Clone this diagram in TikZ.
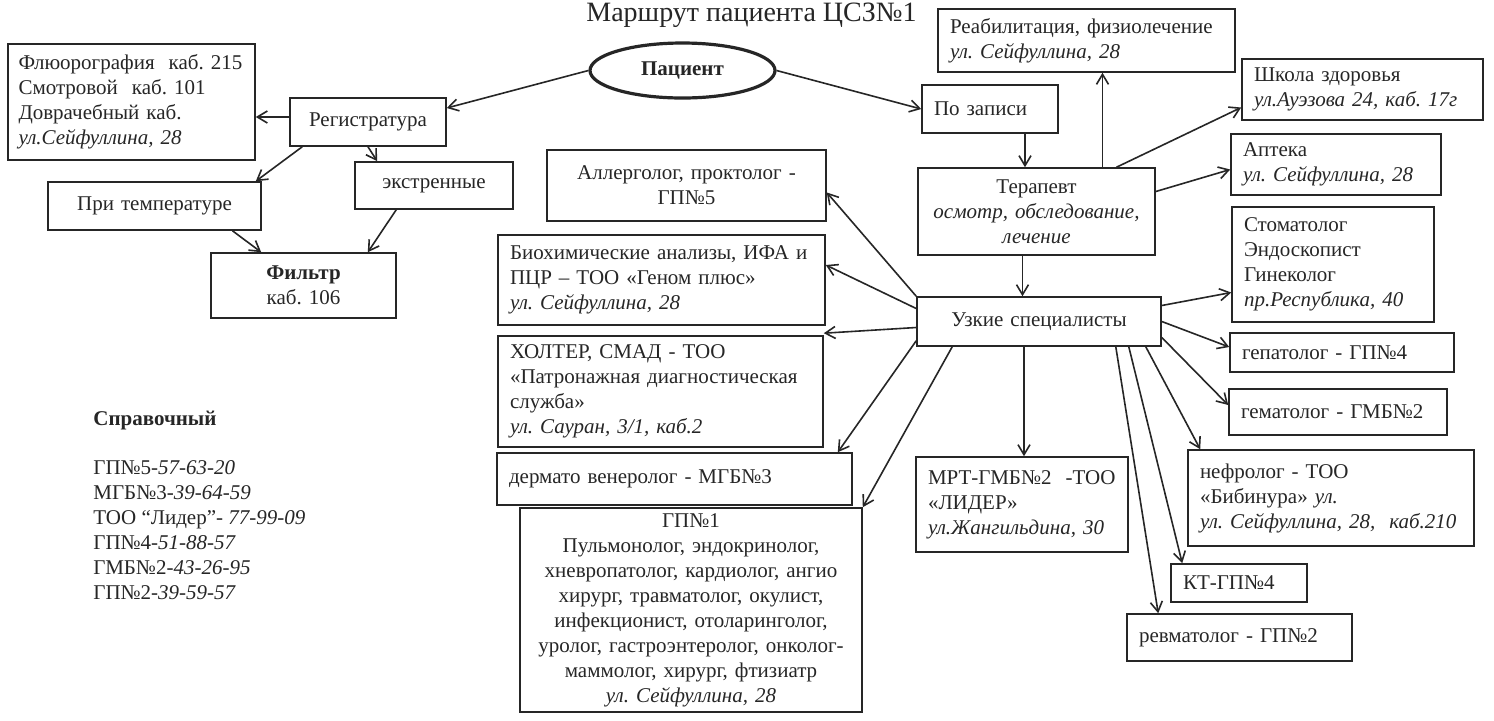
\documentclass[tikz,border=0pt]{standalone}
\usepackage{fontspec}
\setmainfont{Liberation Serif}
\usetikzlibrary{arrows.meta,positioning,shapes.geometric}
\definecolor{ink}{HTML}{262626}
\tikzset{
  card/.style={rectangle,draw=ink,line width=0.8pt,text=ink,inner xsep=6pt,inner ysep=2pt,
    font=\fontsize{10.5}{12.5}\selectfont},
  lcard/.style={card,align=left},
  ccard/.style={card,align=center},
  oval/.style={ellipse,draw=ink,line width=1.6pt,text=ink,inner sep=0pt,
    font=\fontsize{10.5}{12.5}\selectfont\bfseries},
  note/.style={text=ink,inner sep=0pt,align=left,font=\fontsize{10.5}{12.5}\selectfont},
  link/.style={-{Straight Barb[length=5pt,width=6pt]},line width=0.8pt,draw=ink},
}

\begin{document}
\frenchspacing
\begin{tikzpicture}[x=0.5pt,y=-0.5pt]
  \useasboundingbox[fill=white] (0,0) rectangle (1494,720);

  \node[text=ink,font=\fontsize{14}{16}\selectfont,anchor=base] (title) at (751.5,21) {Маршрут пациента ЦСЗ№1};

  % left part
  \node[oval,minimum width=92.5pt,minimum height=27.5pt] (patient) at (682.5,70.5) {Пациент};
  \node[lcard,inner xsep=5.25pt,text width=113pt,minimum height=58pt] (fluoro) at (131.5,102)
    {Флюорография\ \ каб. 215\\Смотровой\ \ каб. 101\\Доврачебный каб.\\\textit{ул.Сейфуллина, 28}};
  \node[ccard,text width=66pt,minimum height=24pt] (reg) at (368,122) {Регистратура};
  \node[ccard,text width=94.5pt,minimum height=24pt] (temp) at (154.5,206) {При температуре};
  \node[ccard,text width=67pt,minimum height=23.5pt] (urgent) at (434,185.5) {экстренные};
  \node[ccard,text width=80.5pt,minimum height=32.5pt] (filter) at (303.5,285.5) {\textbf{Фильтр}\\каб. 106};

  \node[note,font=\fontsize{10.5}{12.5}\selectfont\bfseries,anchor=west] (ref) at (93,420) {Справочный};
  \node[note,anchor=west] (phones) at (93,530.5)
    {ГП№5\textit{-57-63-20}\\МГБ№3\textit{-39-64-59}\\ТОО “Лидер”- \textit{77-99-09}\\
     ГП№4\textit{-51-88-57}\\ГМБ№2\textit{-43-26-95}\\ГП№2\textit{-39-59-57}};

  % therapist branch
  \node[lcard,text width=56pt,minimum height=24pt] (byappt) at (990,109) {По записи};
  \node[lcard,text width=136.5pt,minimum height=31.5pt] (rehab) at (1086.5,40.5)
    {Реабилитация, физиолечение\\\textit{ул. Сейфуллина, 28}};
  \node[ccard,text width=106.5pt,minimum height=43.5pt] (therapist) at (1036.5,211.5)
    {Терапевт\\\textit{осмотр, обследование,}\\\textit{лечение}};
  \node[lcard,text width=108.5pt,minimum height=30.5pt] (school) at (1362.5,89.5)
    {Школа здоровья\\\textit{ул.Ауэзова 24, каб. 17г}};
  \node[lcard,text width=93pt,minimum height=30.5pt] (pharm) at (1336,164.5)
    {Аптека\\\textit{ул. Сейфуллина, 28}};

  % specialists
  \node[ccard,text width=110pt,minimum height=24.5pt] (uz) at (1039,321.5) {Узкие специалисты};
  \node[lcard,text width=89pt,minimum height=57.5pt] (dent) at (1333,264.5)
    {Стоматолог\\Эндоскопист\\Гинеколог\\\textit{пр.Республика, 40}};
  \node[lcard,text width=100pt,minimum height=19.5pt] (hepat) at (1342,352.5) {гепатолог - ГП№4};
  \node[lcard,text width=97pt,minimum height=23pt] (hemat) at (1338,412) {гематолог - ГМБ№2};
  \node[lcard,text width=131pt,minimum height=48pt] (nephro) at (1331,498)
    {нефролог - ТОО\\«Бибинура» \textit{ул.}\\\textit{ул. Сейфуллина, 28,\ \ каб.210}};
  \node[lcard,text width=56pt,minimum height=19pt] (kt) at (1239,583) {КТ-ГП№4};
  \node[lcard,text width=100.5pt,minimum height=23.5pt] (rheum) at (1239.5,637.5) {ревматолог - ГП№2};
  \node[lcard,text width=94pt,minimum height=47.5pt] (mrt) at (1022,504.5)
    {МРТ-ГМБ№2\ \ -ТОО\\«ЛИДЕР»\\\textit{ул.Жангильдина, 30}};
  \node[ccard,text width=127.5pt,minimum height=35.5pt] (allerg) at (686.5,185.5)
    {Аллерголог, проктолог -\\ГП№5};
  \node[lcard,text width=151.5pt,minimum height=45pt] (bio) at (661.5,280)
    {Биохимические анализы, ИФА и\\ПЦР – ТОО «Геном плюс»\\\textit{ул. Сейфуллина, 28}};
  \node[lcard,text width=150.5pt,minimum height=55.5pt] (holter) at (660.5,391.5)
    {ХОЛТЕР, СМАД - ТОО\\«Патронажная диагностическая\\служба»\\\textit{ул. Сауран, 3/1, каб.2}};
  \node[lcard,text width=165.5pt,minimum height=26pt] (derm) at (674.5,479) {дермато венеролог - МГБ№3};
  \node[ccard,text width=159pt,minimum height=102pt] (gp1) at (691,610)
    {ГП№1\\Пульмонолог, эндокринолог,\\хневропатолог, кардиолог, ангио\\хирург, травматолог, окулист,\\
     инфекционист, отоларинголог,\\уролог, гастроэнтеролог, онколог-\\маммолог, хирург, фтизиатр\\
     \textit{ул. Сейфуллина, 28}};

  % arrows
  \draw[link] (patient.west) -- ([yshift=7pt]reg.east);
  \draw[link] (patient.east) -- (byappt.west);
  \draw[link] ([yshift=2.5pt]reg.west) -- ([yshift=2.5pt]fluoro.east |- reg.west);
  \draw[link] ([xshift=6.5pt]reg.south west) -- ([xshift=-3pt]temp.north east);
  \draw[link] (reg.south) -- ([xshift=11.5pt]urgent.north west);
  \draw[link] ([xshift=39pt]temp.south) -- ([xshift=25.5pt]filter.north west);
  \draw[link] ([xshift=21pt]urgent.south west) -- ([xshift=-14.5pt]filter.north east);

  \draw[link] ([xshift=17.5pt]byappt.south) -- ([xshift=17.5pt]byappt.south |- therapist.north);
  \draw[link] ([xshift=33pt]therapist.north) -- ([xshift=33pt]therapist.north |- rehab.south);
  \draw[link] ([xshift=40pt]therapist.north) -- ([yshift=-9pt]school.west);
  \draw[link] ([yshift=10pt]therapist.east) -- ([yshift=-2.5pt]pharm.west);
  \draw[link] ([xshift=-7pt]therapist.south) -- ([xshift=-7pt]therapist.south |- uz.north);

  \draw[link] (uz.north west) -- ([yshift=-3.5pt]allerg.east);
  \draw[link] ([yshift=6.5pt]uz.west) -- ([yshift=7.5pt]bio.east);
  \draw[link] ([yshift=-3pt]uz.west) -- ([yshift=1pt]holter.north east);
  \draw[link] ([yshift=3pt]uz.south west) -- ([xshift=-7.5pt]derm.north east);
  \draw[link] ([xshift=18pt]uz.south west) -- (gp1.north east);
  \draw[link] ([xshift=-7.5pt]uz.south) -- ([xshift=-7.5pt]uz.south |- mrt.north);
  \draw[link] ([yshift=8pt]uz.east) -- ([yshift=-14pt]dent.west);
  \draw[link] (uz.east) -- ([yshift=2.75pt]hepat.west);
  \draw[link] ([yshift=-8pt]uz.east) -- ([yshift=3.5pt]hemat.west);
  \draw[link] ([xshift=-8pt]uz.south east) -- ([xshift=6.5pt]nephro.north west);
  \draw[link] ([xshift=-16.5pt]uz.south east) -- ([xshift=6pt]kt.north west);
  \draw[link] ([xshift=-23pt]uz.south east) -- ([xshift=16pt]rheum.north west);
\end{tikzpicture}
\end{document}
